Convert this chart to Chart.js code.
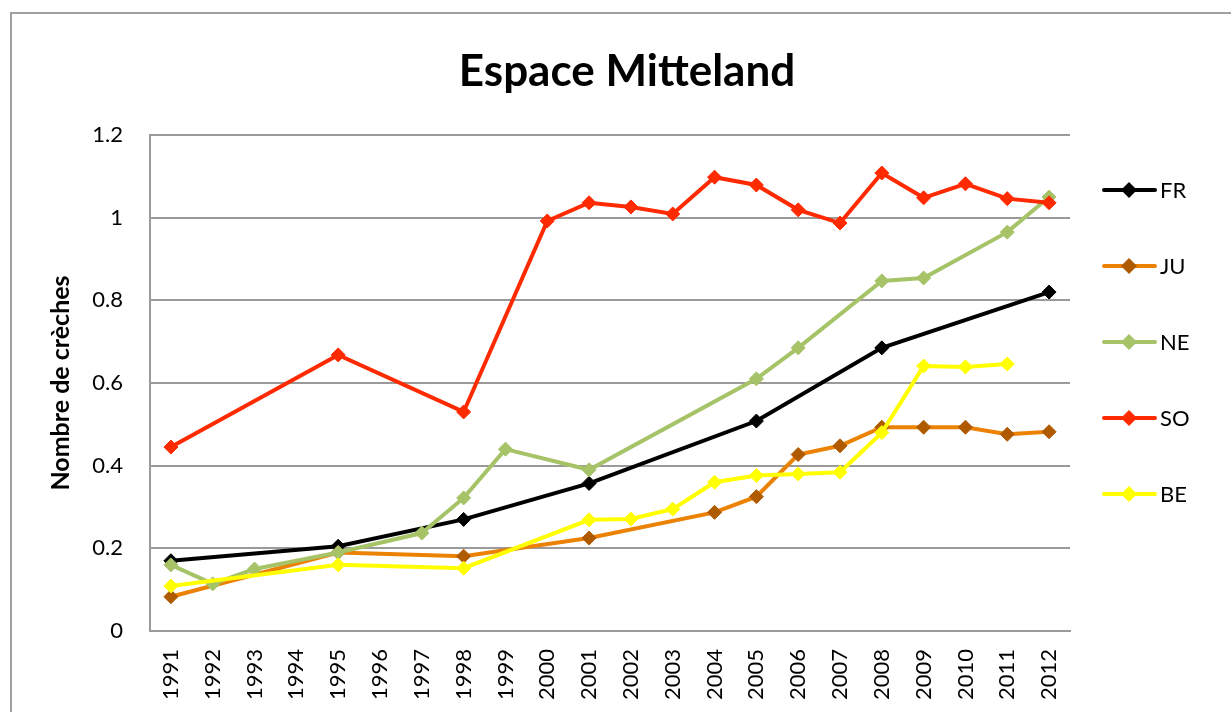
<!DOCTYPE html>
<html>
<head>
<meta charset="utf-8">
<script src="https://cdn.jsdelivr.net/npm/chart.js@4.4.1/dist/chart.umd.min.js"></script>
<style>
  body { margin: 0; background: #fff; }
  canvas { display: block; }
</style>
</head>
<body>
<canvas id="crechesChart" width="1231" height="712"></canvas>
<script>
// Data
const years = ['1991', '1992', '1993', '1994', '1995', '1996', '1997', '1998', '1999', '2000', '2001',
  '2002', '2003', '2004', '2005', '2006', '2007', '2008', '2009', '2010', '2011', '2012'];
const fr = [0.17, null, null, null, 0.205, null, null, 0.27, null, null, 0.357,
  null, null, null, 0.508, null, null, 0.685, null, null, null, 0.82];
const ju = [0.083, null, null, null, 0.19, null, null, 0.181, null, null, 0.225,
  null, null, 0.287, 0.325, 0.427, 0.448, 0.493, 0.493, 0.493, 0.476, 0.482];
const ne = [0.16, 0.114, 0.15, null, 0.19, null, 0.237, 0.322, 0.44, null, 0.39,
  null, null, null, 0.61, 0.685, null, 0.847, 0.854, null, 0.965, 1.05];
const so = [0.445, null, null, null, 0.668, null, null, 0.53, null, 0.992, 1.036,
  1.026, 1.009, 1.098, 1.079, 1.019, 0.987, 1.108, 1.048, 1.082, 1.046, 1.036];
const be = [0.109, null, null, null, 0.16, null, null, 0.152, null, null, 0.269,
  0.271, 0.295, 0.36, 0.376, 0.38, 0.384, 0.48, 0.641, 0.639, 0.646, null];
const yTickLabels = ['0', '0.2', '0.4', '0.6', '0.8', '1', '1.2'];

const chartTitle = 'Espace Mitteland';
const yTitle = 'Nombre de crèches';
const fontFamily = 'Lato, "Open Sans", sans-serif';

function serie(label, data, line, marker, order) {
  return {
    label: label,
    data: data,
    borderColor: line,
    backgroundColor: marker,
    pointBackgroundColor: marker,
    pointBorderColor: marker,
    pointStyle: 'rectRot',
    pointRadius: 7,
    pointBorderWidth: 1,
    borderWidth: 4,
    tension: 0,
    spanGaps: true,
    order: order
  };
}

// border + title + legend, drawn by hand
const frame = {
  id: 'frame',
  beforeDraw(chart) {
    const ctx = chart.ctx;
    ctx.save();
    ctx.fillStyle = '#fff';
    ctx.fillRect(0, 0, chart.width, chart.height);
    ctx.strokeStyle = '#a0a0a0';
    ctx.lineWidth = 2;
    ctx.strokeRect(11, 13, chart.width + 20, chart.height + 20);
    ctx.fillStyle = '#000';
    ctx.font = 'bold 44px ' + fontFamily;
    ctx.textAlign = 'center';
    ctx.textBaseline = 'middle';
    ctx.fillText(chartTitle, 627, 72);
    ctx.restore();
  },
  afterDraw(chart) {
    const ctx = chart.ctx;
    ctx.save();
    chart.data.datasets.forEach((ds, i) => {
      const y = 190 + i * 76;
      ctx.strokeStyle = ds.borderColor;
      ctx.lineWidth = 4;
      ctx.lineCap = 'round';
      ctx.beginPath();
      ctx.moveTo(1104, y);
      ctx.lineTo(1155, y);
      ctx.stroke();
      ctx.fillStyle = ds.pointBackgroundColor;
      ctx.beginPath();
      ctx.moveTo(1129, y - 8);
      ctx.lineTo(1137, y);
      ctx.lineTo(1129, y + 8);
      ctx.lineTo(1121, y);
      ctx.closePath();
      ctx.fill();
      ctx.fillStyle = '#000';
      ctx.font = '22px ' + fontFamily;
      ctx.textAlign = 'left';
      ctx.textBaseline = 'middle';
      ctx.fillText(ds.label, 1160, y + 1);
    });
    ctx.restore();
  }
};

const ctx = document.getElementById('crechesChart').getContext('2d');
const chart = new Chart(ctx, {
  type: 'line',
  data: {
    labels: years,
    datasets: [
      serie('FR', fr, '#000000', '#000000', 5),
      serie('JU', ju, '#EC8204', '#B05A00', 4),
      serie('NE', ne, '#A6C368', '#A6C368', 3),
      serie('SO', so, '#FF2A00', '#FF2A00', 2),
      serie('BE', be, '#FFFF00', '#FFFF00', 1)
    ]
  },
  options: {
    responsive: false,
    devicePixelRatio: 1,
    animation: false,
    layout: {
      padding: { top: 135, left: 36, right: 161, bottom: 0 }
    },
    plugins: {
      legend: { display: false },
      title: { display: false },
      tooltip: { enabled: false }
    },
    scales: {
      x: {
        offset: true,
        grid: { display: false, drawTicks: false },
        border: { display: true, color: '#9a9a9a', width: 2 },
        ticks: {
          autoSkip: false,
          minRotation: 90,
          maxRotation: 90,
          padding: 18,
          color: '#000',
          font: { family: fontFamily, size: 22 }
        },
        afterFit(scale) { scale.height = 81; }
      },
      y: {
        min: 0,
        max: 1.2,
        ticks: {
          stepSize: 0.2,
          padding: 27,
          color: '#000',
          font: { family: fontFamily, size: 22 },
          callback: (value, index) => yTickLabels[index]
        },
        grid: { color: '#9a9a9a', lineWidth: 2, drawTicks: false },
        border: { display: true, color: '#9a9a9a', width: 2 },
        title: {
          display: true,
          text: yTitle,
          color: '#000',
          padding: { top: 10, bottom: 0 },
          font: { family: fontFamily, size: 25, weight: 'bold' }
        },
        afterFit(scale) { scale.width = 114; }
      }
    }
  },
  plugins: [frame]
});
</script>
</body>
</html>
